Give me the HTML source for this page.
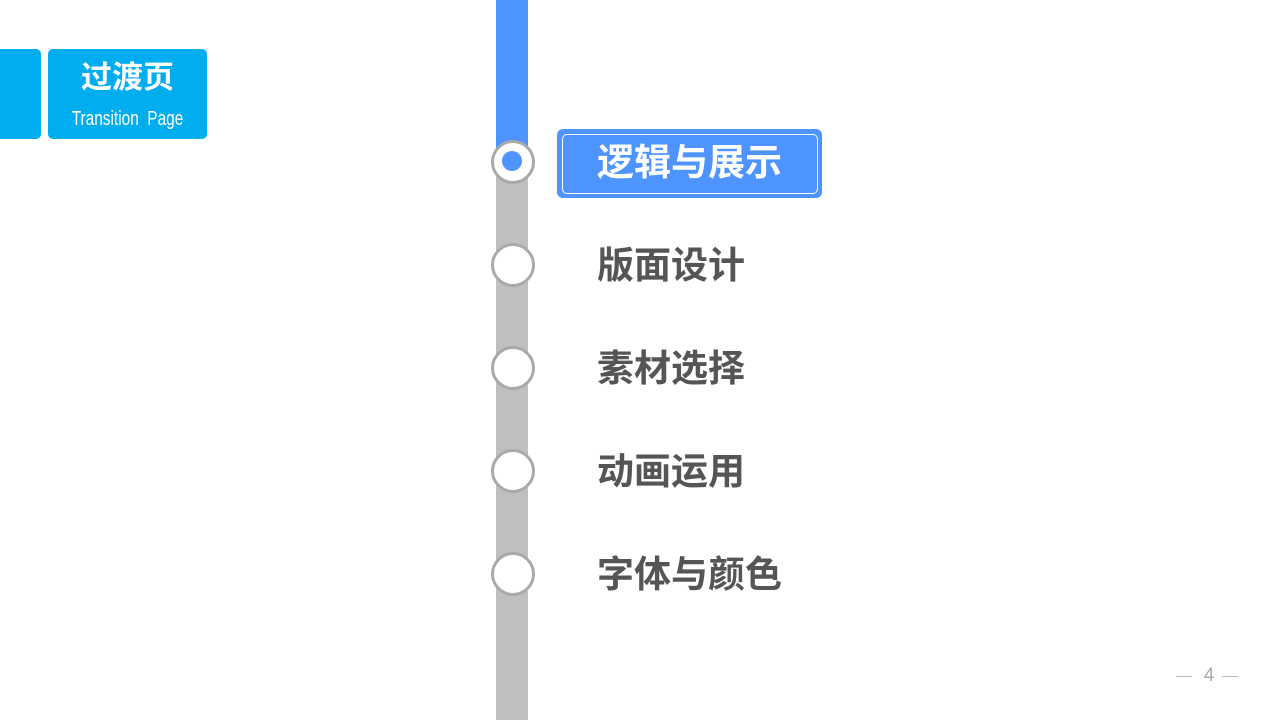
<!DOCTYPE html>
<html><head><meta charset="utf-8"><style>
body{margin:0;width:1281px;height:720px;position:relative;background:#fff;overflow:hidden;font-family:"Liberation Sans","Noto Sans CJK SC",sans-serif}
.a{position:absolute}
.c{position:absolute;left:491px;width:38px;height:38px;border:3px solid #a9a9a9;border-radius:50%;background:#fff}
.t{position:absolute;left:597px;font-size:37px;font-weight:bold;color:#555;line-height:44px}
</style></head><body>
<div class="a" style="left:0;top:49px;width:41px;height:90px;background:#00adef;border-radius:0 5px 5px 0"></div>
<div class="a" style="left:48px;top:49px;width:159px;height:90px;background:#00adef;border-radius:5px"></div>
<div class="a" style="left:48px;top:58px;width:159px;text-align:center;color:#fff;font-size:31px;font-weight:bold;line-height:40px">过渡页</div>
<div class="a" style="left:28px;top:106px;width:199px;text-align:center;color:#fff;font-size:20px;line-height:26px;transform:scaleX(0.77)">Transition&nbsp; Page</div>
<div class="a" style="left:496px;top:0;width:32px;height:720px;background:#bfbfbf"></div>
<div class="a" style="left:496px;top:0;width:32px;height:150px;background:#4d94ff"></div>
<div class="c" style="top:140px"></div>
<div class="a" style="left:502px;top:151px;width:20px;height:20px;border-radius:50%;background:#4d94ff"></div>
<div class="c" style="top:243px"></div>
<div class="c" style="top:346px"></div>
<div class="c" style="top:449px"></div>
<div class="c" style="top:552px"></div>
<div class="a" style="left:557px;top:129px;width:265px;height:69px;background:#4d94ff;border-radius:6px"></div>
<div class="a" style="left:562px;top:134px;width:254px;height:58px;border:1px solid #fff;border-radius:5px"></div>
<div class="t" style="top:141px;color:#fff">逻辑与展示</div>
<div class="t" style="top:244px">版面设计</div>
<div class="t" style="top:347px">素材选择</div>
<div class="t" style="top:450px">动画运用</div>
<div class="t" style="top:553px">字体与颜色</div>
<div class="a" style="left:1176px;top:676px;width:16px;height:1px;background:#bbb"></div>
<div class="a" style="left:1222px;top:676px;width:16px;height:1px;background:#bbb"></div>
<div class="a" style="left:1198px;top:665px;width:22px;text-align:center;color:#aaa;font-size:19px;line-height:22px">4</div>
</body></html>
